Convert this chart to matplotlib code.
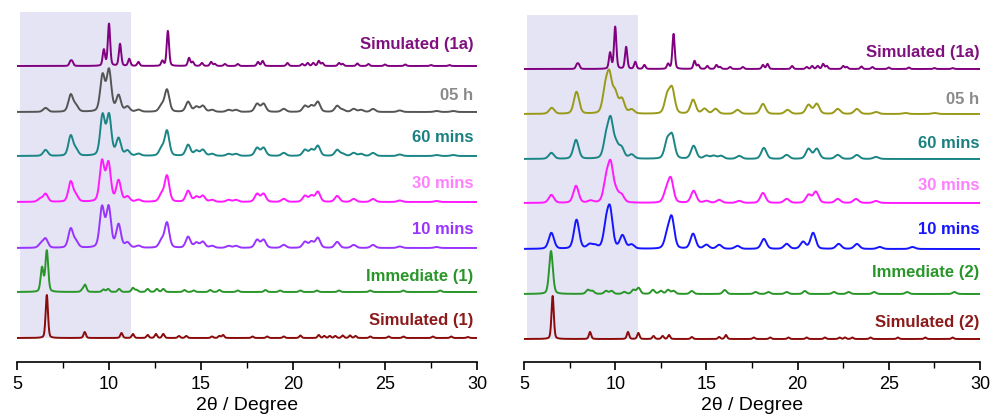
import numpy as np
import matplotlib
matplotlib.use("Agg")
import matplotlib.pyplot as plt
from matplotlib.patches import Rectangle

plt.rcParams['font.family'] = ['Liberation Sans', 'DejaVu Sans']

# ---------------- data (peak positions in 2theta, heights in a.u.) ----------------
# shared simulated pattern of 1a
sim1a_pos = [7.9, 8.0, 9.72, 10.0, 10.6, 11.1, 11.6, 12.9, 13.2, 14.35, 14.55, 15.05, 15.55, 15.75,
             16.3, 17.0, 18.1, 18.35, 19.7, 20.5, 20.8, 21.1, 21.4, 21.6, 22.5, 22.7, 23.5, 24.1,
             25.0, 26.1, 27.5, 28.5]
sim1a_hgt = [4, 4, 16, 42, 22, 7, 4, 5, 35, 8, 4, 3, 4, 2,
             2, 2, 4, 5, 3, 2, 3, 3, 5, 3, 3, 2, 2.5, 2,
             1.5, 1.5, 1, 1]

# ---- left panel ----
L_05h_pos = [6.55, 7.92, 8.2, 9.65, 10.0, 10.52, 11.0, 11.6, 12.85, 13.15, 14.3, 14.75, 15.1, 15.6,
             16.5, 16.9, 18.05, 18.4, 19.5, 20.65, 21.0, 21.35, 22.4, 22.7, 23.3, 23.7, 24.35, 25.8, 27.8, 28.7]
L_05h_hgt = [4, 17, 6, 36, 41, 16, 5, 2, 6, 22, 10, 5, 6, 2,
             2, 2, 8, 8, 3, 6, 6, 10, 6, 2, 3, 2, 3, 1.5, 1, 1]
L_60m_pos = [6.55, 7.92, 8.2, 9.65, 10.0, 10.52, 11.0, 11.6, 12.85, 13.15, 14.3, 14.75, 15.1, 15.6,
             16.5, 16.9, 18.05, 18.4, 19.5, 20.65, 21.0, 21.35, 22.4, 22.7, 23.3, 23.7, 24.35, 25.8, 27.8, 28.7]
L_60m_hgt = [6, 20, 6, 40, 40, 17, 5, 2, 7, 25, 11, 5, 6, 2,
             2, 2, 8, 8, 3, 6, 6, 10, 6, 2, 3, 2, 3, 1.5, 1, 1]
L_30m_pos = [6.25, 6.55, 7.92, 8.2, 9.62, 9.97, 10.52, 11.0, 11.6, 12.85, 13.15, 14.3, 14.75, 15.1,
             15.6, 16.5, 16.9, 18.05, 18.4, 19.5, 20.65, 21.0, 21.35, 22.4, 23.3, 24.35, 25.8, 27.8]
L_30m_hgt = [3, 8, 20, 6, 40, 38, 21, 5, 2, 7, 26, 11, 5, 6,
             2, 2, 2, 8, 8, 3, 6, 6, 10, 6, 3, 3, 1.5, 1]
L_10m_pos = [6.3, 6.55, 7.92, 8.2, 9.62, 9.98, 10.52, 11.0, 11.6, 12.85, 13.15, 14.3, 14.75, 15.1,
             15.6, 16.5, 16.9, 18.05, 18.4, 19.5, 20.65, 21.0, 21.35, 22.4, 23.3, 24.35, 25.8, 27.8]
L_10m_hgt = [4, 9, 19, 6, 40, 40, 23, 5, 2, 7, 25, 11, 5, 6,
             2, 2, 2, 8, 8, 3, 6, 6, 10, 6, 3, 3, 1.5, 1]
L_imm_pos = [6.36, 6.62, 8.55, 8.7, 9.7, 9.95, 10.55, 11.3, 11.5, 12.1, 12.6, 12.95, 14.1, 14.6,
             15.5, 16.0, 17.0, 18.5, 19.3, 20.4, 21.3, 22.5, 24.2, 26.0, 28.0]
L_imm_hgt = [24, 41, 2, 7, 2.5, 3, 3, 4, 2, 3, 3, 3, 2, 1.5,
             2, 2, 1.5, 2, 1.5, 1.5, 1.5, 1.5, 1.5, 1.5, 1.5]
L_sim_pos = [6.62, 8.68, 10.68, 11.3, 12.1, 12.55, 12.95, 13.8, 14.2, 15.6, 16.0, 16.2, 17.8, 18.6,
             19.5, 20.4, 21.4, 21.7, 22.0, 22.3, 22.7, 23.1, 23.4, 24.2, 25.2, 26.0, 27.6, 28.6, 29.5]
L_sim_hgt = [43, 6, 5, 4, 3, 4, 4, 2, 2, 1.5, 2, 3, 1.5, 1.5,
             1.5, 2.5, 3, 2, 2, 2, 2.5, 2.5, 2, 1.5, 1.5, 1.5, 1.5, 1.5, 1]

# ---- right panel ----
R_05h_pos = [6.52, 7.88, 9.45, 9.68, 10.0, 10.37, 10.9, 12.85, 13.12, 14.27, 14.9, 15.5, 16.7,
             18.1, 19.45, 20.6, 21.05, 22.2, 23.25, 24.3, 25.9, 27.5]
R_05h_hgt = [6, 22, 21, 35, 19, 14, 4, 17, 24, 14, 5, 5, 4,
             10, 4, 9, 10, 5, 5, 2, 1, 1]
R_60m_pos = [6.5, 7.85, 9.5, 9.75, 10.05, 10.35, 10.9, 12.85, 13.12, 14.3, 15.0, 15.4, 15.8, 16.8,
             18.15, 19.4, 20.6, 21.05, 22.2, 23.25, 24.3]
R_60m_hgt = [6, 19, 19, 36, 12, 10, 4, 17, 22, 13, 3, 3, 3, 3,
             11, 4, 10, 10, 4, 4, 2]
R_30m_pos = [6.5, 7.85, 8.65, 9.5, 9.75, 10.05, 10.35, 12.8, 13.05, 14.3, 15.0, 15.7, 16.8,
             18.1, 19.4, 20.6, 21.0, 22.2, 23.2, 24.3]
R_30m_hgt = [8, 17, 2, 21, 36, 9, 7, 11, 23, 12, 2, 3, 2,
             10, 4, 8, 11, 4, 4, 2]
R_10m_pos = [6.5, 7.88, 8.6, 8.9, 9.5, 9.72, 10.4, 10.9, 12.85, 13.1, 14.27, 15.0, 15.7, 16.7,
             18.15, 19.4, 20.3, 20.85, 22.25, 23.25, 24.5, 26.3]
R_10m_hgt = [16, 29, 4, 3, 21, 36, 13, 4, 13, 30, 15, 4, 4, 3,
             10, 5, 7, 16, 5, 5, 2, 2]
R_imm_pos = [6.48, 8.5, 8.75, 9.5, 9.8, 10.5, 11.0, 11.28, 12.07, 12.5, 12.9, 13.2, 14.2, 16.0,
             17.7, 18.4, 19.4, 20.4, 22.0, 22.8, 24.2, 26.0, 28.6]
R_imm_hgt = [43, 4, 3, 3, 3, 2, 4, 6, 4, 3, 4, 3, 3, 4,
             2, 2, 2, 3, 2, 2, 2, 2, 2]
R_sim_pos = [6.57, 8.62, 10.7, 11.27, 12.1, 12.6, 12.95, 14.2, 15.7, 16.07, 17.6, 18.5, 19.5, 20.5,
             21.5, 22.3, 22.6, 23.0, 24.0, 25.5, 27.0, 28.5]
R_sim_hgt = [43, 7, 7, 6, 3, 3, 4, 2, 2, 4, 1.5, 1.5, 1.5, 1.5,
             1.5, 1.5, 1.5, 1.5, 1.5, 1.5, 1.5, 1.5]

left_labels = ["Simulated (1a)", "05 h", "60 mins", "30 mins", "10 mins", "Immediate (1)", "Simulated (1)"]
right_labels = ["Simulated (1a)", "05 h", "60 mins", "30 mins", "10 mins", "Immediate (2)", "Simulated (2)"]
xticks = [5, 10, 15, 20, 25, 30]
xlabel = "2\u03b8 / Degree"

# ---------------- styling ----------------
left_traces = [(sim1a_pos, sim1a_hgt), (L_05h_pos, L_05h_hgt), (L_60m_pos, L_60m_hgt),
               (L_30m_pos, L_30m_hgt), (L_10m_pos, L_10m_hgt), (L_imm_pos, L_imm_hgt),
               (L_sim_pos, L_sim_hgt)]
right_traces = [(sim1a_pos, sim1a_hgt), (R_05h_pos, R_05h_hgt), (R_60m_pos, R_60m_hgt),
                (R_30m_pos, R_30m_hgt), (R_10m_pos, R_10m_hgt), (R_imm_pos, R_imm_hgt),
                (R_sim_pos, R_sim_hgt)]
left_fwhm = [0.15, 0.3, 0.3, 0.3, 0.3, 0.18, 0.15]
right_fwhm = [0.15, 0.34, 0.34, 0.34, 0.34, 0.24, 0.15]
left_off = [296, 250, 206, 160, 114, 70, 24]
right_off = [293, 248, 203, 159, 113, 68, 23]
left_lab_y = [318, 266, 225, 178, 133, 86, 42]
right_lab_y = [310, 263, 219, 176, 133, 89, 40]
left_line_c = ['#800080', '#555555', '#1b8585', '#ff1aff', '#9933ff', '#2a962a', '#8b0a0a']
right_line_c = ['#800080', '#9a9a1a', '#1b8585', '#ff1aff', '#1515ff', '#2a962a', '#8b0a0a']
left_lab_c = ['#80107f', '#8a8a8a', '#1a8080', '#ff80ff', '#9933ff', '#2a962a', '#8b1a1a']
right_lab_c = ['#80107f', '#8a8a8a', '#1a8080', '#ff80ff', '#1515ff', '#2a962a', '#8b1a1a']

x = np.linspace(5, 30, 5001)


def profile(pos, hgt, fwhm, eta=0.3):
    y = np.zeros_like(x)
    s = fwhm / 2.3548
    g = fwhm / 2
    for p, h in zip(pos, hgt):
        gauss = np.exp(-0.5 * ((x - p) / s) ** 2)
        lor = 1.0 / (1.0 + ((x - p) / g) ** 2)
        y += h * ((1 - eta) * gauss + eta * lor)
    return y


fig = plt.figure(figsize=(9.9, 4.16), dpi=100)
axL = fig.add_axes([17 / 990, 54 / 416, 460 / 990, 357 / 416])
axR = fig.add_axes([524 / 990, 54 / 416, 456 / 990, 357 / 416])

panels = [
    (axL, left_traces, left_fwhm, left_off, left_lab_y, left_line_c, left_lab_c, left_labels, (5.16, 11.2, 24, 350), 29.8),
    (axR, right_traces, right_fwhm, right_off, right_lab_y, right_line_c, right_lab_c, right_labels, (5.15, 11.25, 23, 347), 29.97),
]

for ax, traces, fw, offs, laby, lc, tc, labs, shade, labx in panels:
    ax.set_xlim(5, 30)
    ax.set_ylim(0, 357)
    ax.add_patch(Rectangle((shade[0], shade[2]), shade[1] - shade[0], shade[3] - shade[2],
                           facecolor='#e4e4f4', edgecolor='none', zorder=0))
    for (pos, hgt), f, o, c in zip(traces, fw, offs, lc):
        ax.plot(x, profile(pos, hgt, f) + o, color=c, lw=1.4, zorder=2)
    for lab, ly, c in zip(labs, laby, tc):
        ax.text(labx, ly, lab, color=c, fontsize=12, fontweight='bold', ha='right', va='center')
    for s in ['left', 'right', 'top']:
        ax.spines[s].set_visible(False)
    ax.spines['bottom'].set_linewidth(1.2)
    ax.set_yticks([])
    ax.set_xticks(xticks)
    ax.set_xticks(np.arange(7.5, 30, 5), minor=True)
    ax.tick_params(axis='x', which='major', direction='out', length=6, width=1.2, labelsize=13, pad=4)
    ax.tick_params(axis='x', which='minor', direction='out', length=4, width=1.0)
    ax.set_xlabel(xlabel, fontsize=14, labelpad=3)
    ax.patch.set_alpha(0)

fig.savefig("out.png", dpi=100)
